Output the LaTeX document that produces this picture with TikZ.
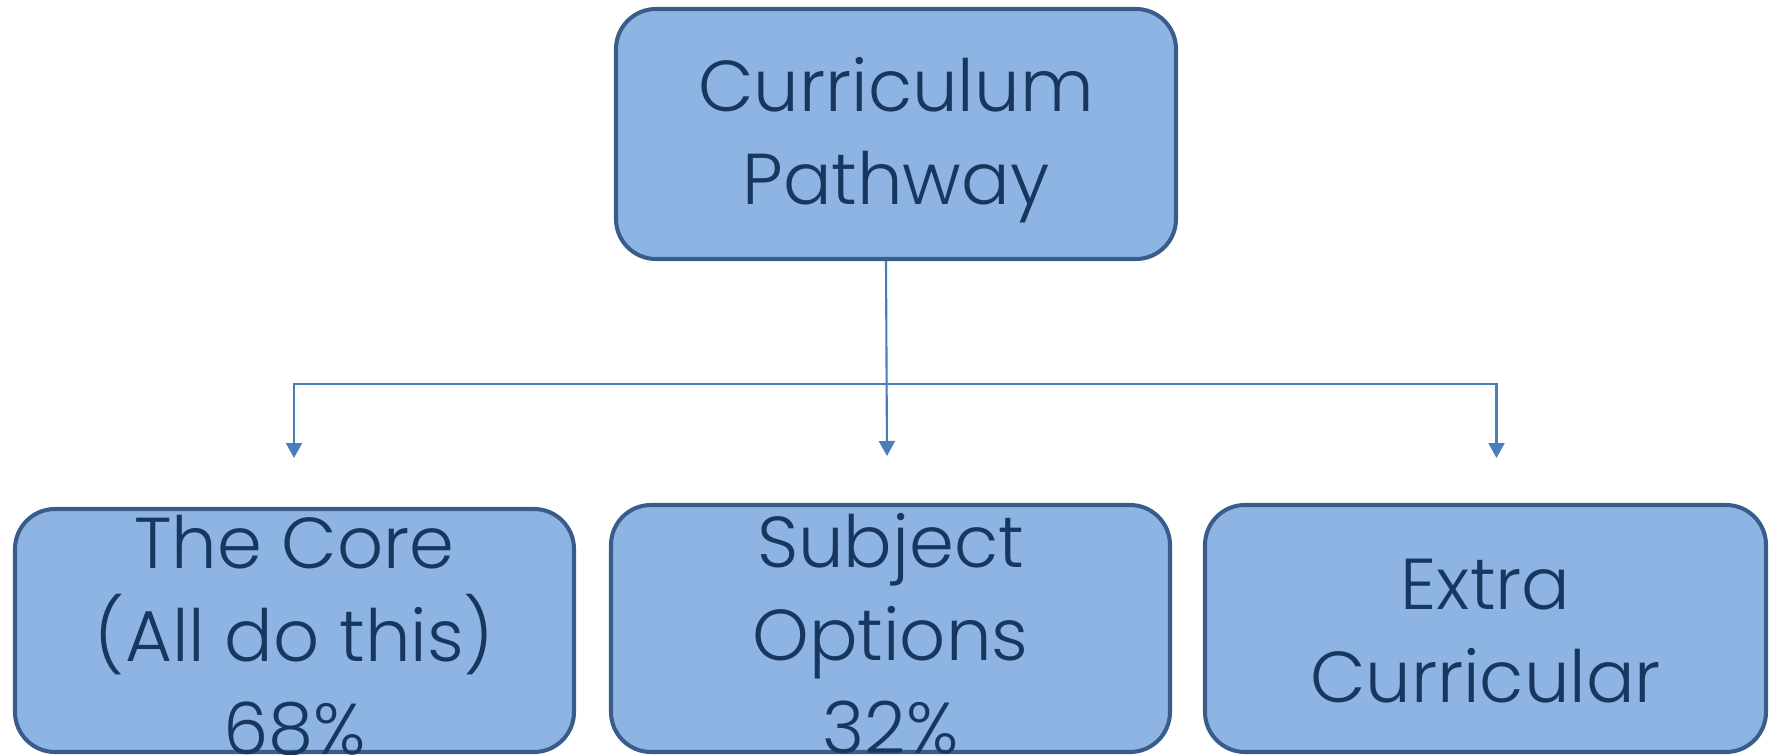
\documentclass[tikz,border=0pt]{standalone}
\usepackage{fontspec}
\setmainfont{Poppins Light}
\usetikzlibrary{arrows.meta}
\definecolor{boxfill}{HTML}{8EB4E3}
\definecolor{boxline}{HTML}{385D8A}
\definecolor{boxtext}{HTML}{17375E}
\definecolor{linkline}{HTML}{4A7EBB}
\tikzset{
  pathbox/.style={draw=boxline, line width=2.3pt, fill=boxfill, rounded corners=0.8cm, inner sep=0pt},
  pathtext/.style={text=boxtext, align=center, inner sep=0pt, font=\fontsize{41}{53}\selectfont},
  link/.style={draw=linkline, line width=1.2pt},
  linkarrow/.style={link, -{Triangle[width=0.32cm,length=0.3cm]}}
}
\begin{document}
\begin{tikzpicture}
    \useasboundingbox (0,0) rectangle (35.46,-15.10);

    % top box
    \node[pathbox, minimum width=11.2cm, minimum height=5cm] (pathway) at (17.92,-2.68) {};
    \node[pathtext] (pathwaytext) at ([yshift=-0.12cm]pathway.center) {Curriculum\\Pathway};

    % the three branches
    \node[pathbox, minimum width=11.18cm, minimum height=4.86cm] (core) at (5.89,-12.61) {};
    \node[pathtext] (coretext) at ([yshift=-0.1cm]core.center) {The Core\\(All do this)\\68\%};

    \node[pathbox, minimum width=11.18cm, minimum height=4.94cm] (options) at (17.81,-12.57) {};
    \node[pathtext] (optionstext) at ([yshift=-0.1cm]options.center) {Subject\\Options\\32\%};

    \node[pathbox, minimum width=11.22cm, minimum height=4.94cm] (extra) at (29.71,-12.57) {};
    \node[pathtext] (extratext) at ([yshift=-0.05cm]extra.center) {Extra\\Curricular};

    % connectors
    \coordinate (split) at (17.72,-7.68);
    \coordinate (coretip) at (5.88,-9.16);
    \coordinate (optionstip) at (17.74,-9.12);
    \coordinate (extratip) at (29.93,-9.16);

    \draw[linkarrow] (pathway.south -| split) -- (optionstip);
    \draw[linkarrow] (split) -| (coretip);
    \draw[linkarrow] (split) -| (extratip);
\end{tikzpicture}
\end{document}
